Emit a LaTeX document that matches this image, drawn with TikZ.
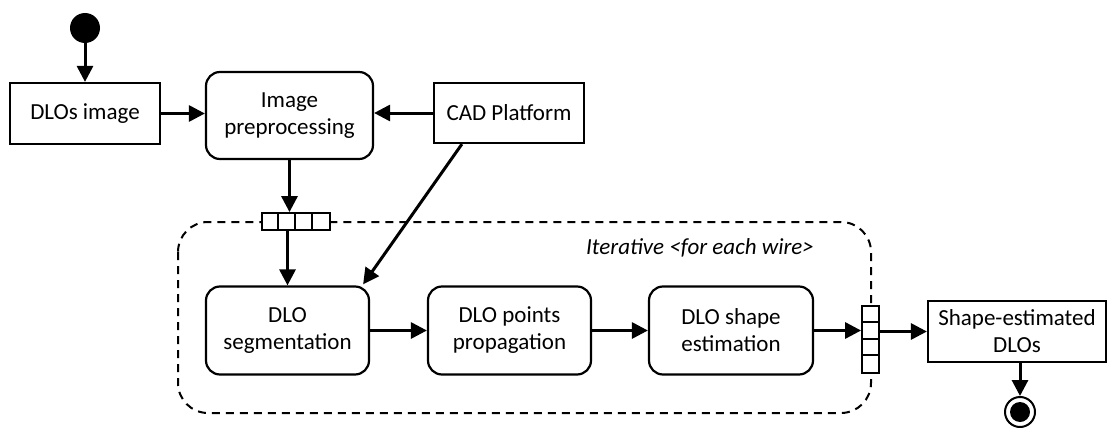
\documentclass[tikz,border=0pt]{standalone}
\usepackage{fontspec}
\setmainfont{Carlito}
\usetikzlibrary{arrows.meta,calc}
\begin{document}
\begin{tikzpicture}[x=1pt,y=-1pt,
  font=\fontsize{23}{27}\selectfont,
  box/.style={draw,line width=2.2pt,inner sep=0pt,align=center,fill=white},
  act/.style={box,rounded corners=14pt},
  flow/.style={line width=3pt,-{Triangle[length=16pt,width=16pt]}},
  pin/.style={draw,line width=1.8pt,fill=white,inner sep=0pt},
  divider/.style={line width=1.8pt}]
\useasboundingbox (0,0) rectangle (1108,428);
% iterative region
\draw[line width=2pt,dash pattern=on 8pt off 6pt,rounded corners=30pt] (178,222) rectangle (871,413);
\node[font=\fontsize{23}{27}\selectfont\itshape] (iter) at (700,248) {Iterative <for each wire>};
% nodes
\node[circle,fill=black,minimum size=30pt,inner sep=0pt] (start) at (85,28) {};
\node[box,minimum width=150pt,minimum height=61pt] (img) at (85,113.5) {DLOs image};
\node[act,minimum width=167pt,minimum height=87pt] (pre) at (289.5,115.5) {Image\\preprocessing};
\node[box,minimum width=150pt,minimum height=60pt] (cad) at (509,113) {CAD Platform};
\node[pin,minimum width=68pt,minimum height=17pt] (qin) at (296,221.5) {};
\foreach \i in {1,2,3}
  \draw[divider] ($(qin.north west)+(17*\i,0)$) -- ($(qin.south west)+(17*\i,0)$);
\node[act,minimum width=163pt,minimum height=88pt] (seg) at (287.5,330.5) {DLO\\segmentation};
\node[act,minimum width=163pt,minimum height=88pt] (pts) at (509.5,330.5) {DLO points\\propagation};
\node[act,minimum width=164pt,minimum height=88pt] (shp) at (731,330.5) {DLO shape\\estimation};
\node[pin,minimum width=17pt,minimum height=67pt] (rpin) at (870.5,339.5) {};
\foreach \i in {1,2,3}
  \draw[divider] ($(rpin.north west)+(0,16.75*\i)$) -- ($(rpin.north east)+(0,16.75*\i)$);
\node[box,minimum width=178pt,minimum height=61pt] (fin) at (1017,331.5) {Shape-estimated\\DLOs};
\node[circle,draw,line width=2pt,minimum size=30pt,inner sep=0pt] (end) at (1020,412) {};
\node[circle,fill=black,minimum size=20pt,inner sep=0pt] (endin) at (end.center) {};
% connectors
\draw[flow] (start) -- (img);
\draw[flow] (img.east) -- (img.east -| pre.west);
\draw[flow] (cad.west) -- (cad.west -| pre.east);
\draw[flow] (pre.south) -- (pre.south |- qin.north);
\draw[flow] (qin.south -| seg.north) -- (seg.north);
\coordinate (cadout) at ($(cad.south west)+(29,0)$);
\coordinate (segin) at ($(seg.north east)+(-7,-1)$);
\draw[flow] (cadout) -- (segin);
\draw[flow] (seg.east) -- (pts.west);
\draw[flow] (pts.east) -- (shp.west);
\draw[flow] (shp.east) -- (shp.east -| rpin.west);
\draw[flow] (rpin.east |- fin.west) -- (fin.west);
\draw[flow] (end.north |- fin.south) -- (end.north);
\end{tikzpicture}
\end{document}
